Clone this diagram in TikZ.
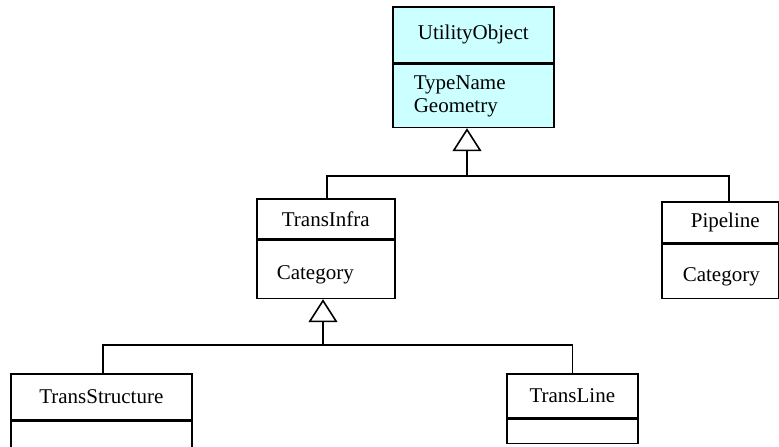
\documentclass[tikz,border=0pt]{standalone}
\usepackage{fontspec}
\setmainfont{Liberation Serif}
\usetikzlibrary{arrows.meta}
\definecolor{clsfill}{RGB}{204,255,255}

\begin{document}
\begin{tikzpicture}[x=1pt,y=-1pt]
	\tikzset{clsname/.style={draw, line width=1.6pt, inner sep=0pt, anchor=north west, font=\fontsize{21}{23}\selectfont}}
	\tikzset{clsattr/.style={draw, line width=1.6pt, inner ysep=0pt, inner xsep=20pt, anchor=north, align=left, font=\fontsize{21}{23}\selectfont}}
	\tikzset{oneattr/.style={text height=26pt, text depth=5pt}}
	\tikzset{gen/.style={line width=1.6pt, -{Triangle[open, length=23pt, width=29pt]}}}
	\useasboundingbox (0,0) rectangle (779,447);
	% classes
	\node[clsname, fill=clsfill, minimum width=161pt, minimum height=56pt] (uo) at (392,6) {UtilityObject};
	\node[clsattr, fill=clsfill, inner xsep=21pt, text width=119pt, minimum height=63pt] (uoattr) at (uo.south) {TypeName\\Geometry};
	\node[clsname, minimum width=138pt, minimum height=40pt] (ti) at (256,198) {TransInfra};
	\node[clsattr, oneattr, text width=98pt, minimum height=58pt] (tiattr) at (ti.south) {Category};
	\node[clsname, minimum width=117pt, minimum height=41pt] (pl) at (661,201) {\hspace*{10pt}Pipeline};
	\node[clsattr, oneattr, inner xsep=21pt, text width=75pt, minimum height=54pt] (plattr) at (pl.south) {Category};
	\node[clsname, minimum width=181pt, minimum height=46pt] (ts) at (10,373) {TransStructure};
	\node[clsattr, text width=141pt, minimum height=26pt] (tsattr) at (ts.south) {};
	\node[clsname, minimum width=131pt, minimum height=44pt] (tl) at (506,373) {TransLine};
	\node[clsattr, text width=91pt, minimum height=24pt] (tlattr) at (tl.south) {};
	% generalisations
	\coordinate (j1) at (467,176);
	\coordinate (j2) at (323,345);
	\draw[gen] (j1) -- (j1 |- uoattr.south);
	\draw[line width=1.6pt] ([xshift=1pt]ti.north) |- (j1) -| ([xshift=8.5pt]pl.north);
	\draw[gen] (j2) -- (j2 |- tiattr.south);
	\draw[line width=1.6pt] ([xshift=1.5pt]ts.north) |- (j2) -| (tl.north);
\end{tikzpicture}
\end{document}
